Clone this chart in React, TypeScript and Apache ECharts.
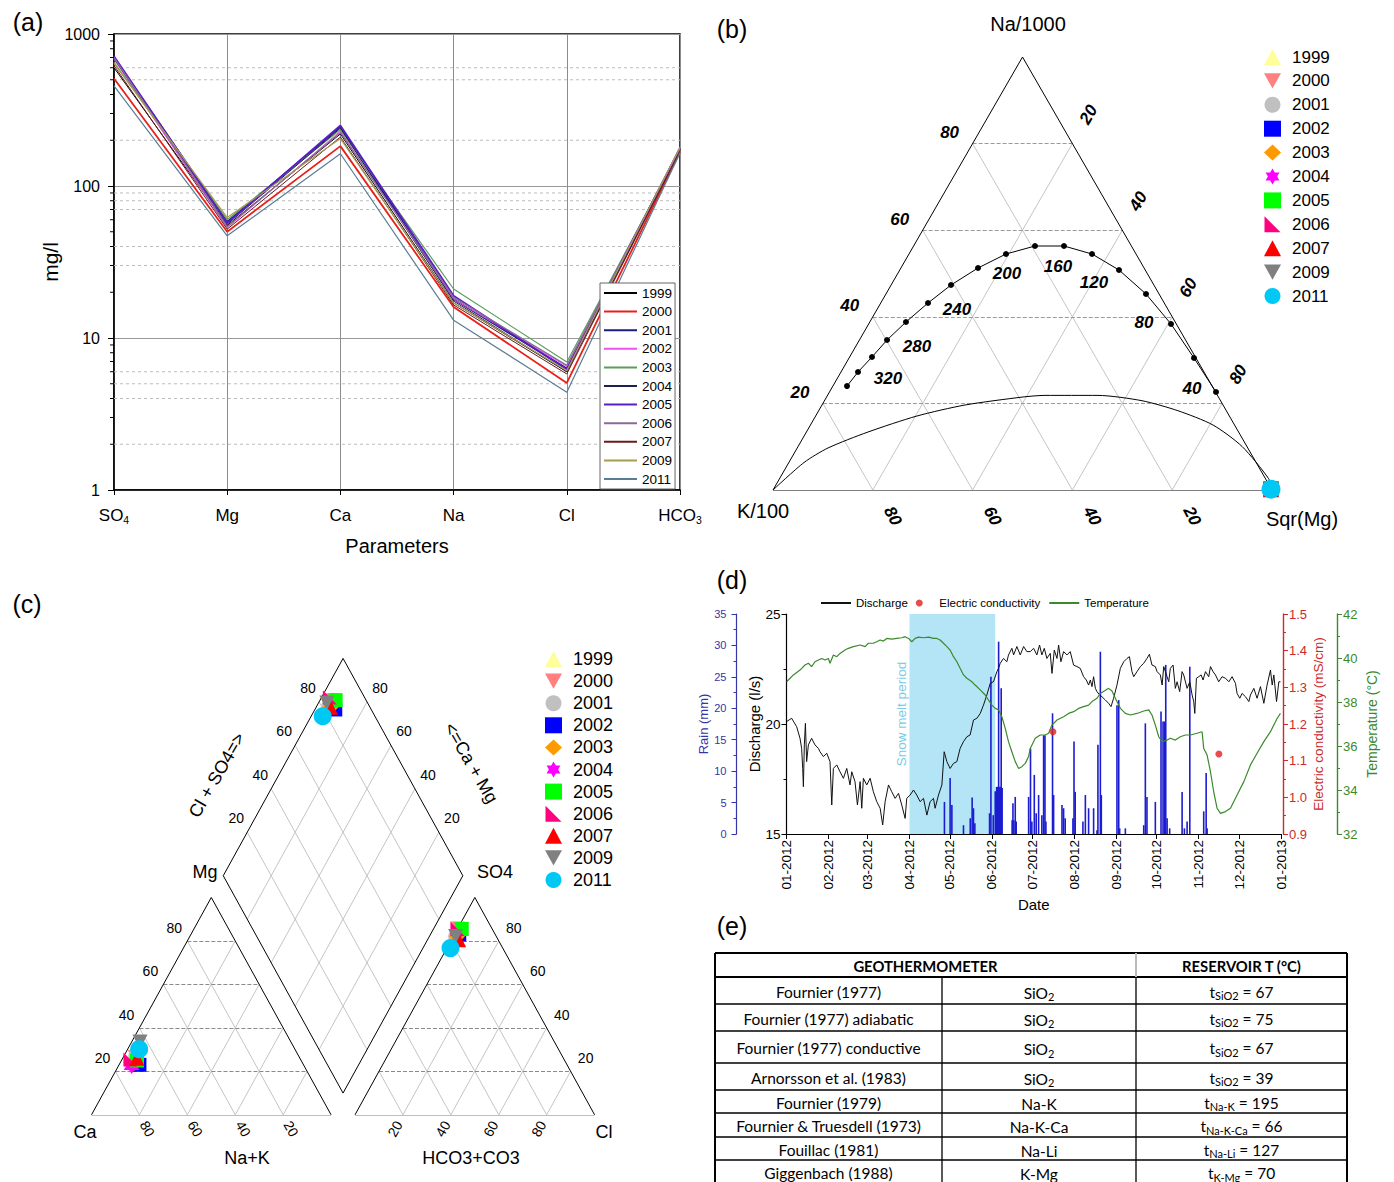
import React, { useEffect, useRef } from 'react';
import * as echarts from 'echarts';

const FONT = '"Liberation Sans", Arial, sans-serif';
const TABLE_FONT = 'Lato, "Liberation Sans", sans-serif';
const SQ3 = Math.sqrt(3) / 2;

// ================= (a) Schoeller-type diagram =================
const aParams = ['SO4', 'Mg', 'Ca', 'Na', 'Cl', 'HCO3'];
const years = ['1999', '2000', '2001', '2002', '2003', '2004', '2005', '2006', '2007', '2009', '2011'];
// rows follow `years`, columns follow `aParams` (mg/l)
const aValues: number[][] = [
  [600, 55, 220, 17, 6.0, 172],
  [510, 50, 183, 16, 5.06, 168],
  [700, 58, 245, 18, 6.3, 175],
  [680, 53, 230, 18, 6.5, 170],
  [650, 60, 235, 21, 6.95, 172],
  [690, 56, 240, 17.5, 6.0, 174],
  [715, 57, 250, 19, 6.2, 178],
  [700, 54, 225, 18.5, 6.6, 176],
  [620, 52, 210, 16.5, 5.8, 170],
  [640, 62, 205, 17, 6.1, 180],
  [455, 47, 163, 13.1, 4.4, 165],
];
const aColors = ['#000000', '#e8201a', '#1c1c80', '#f050f0', '#5a9e5a', '#202050', '#5a1ec8', '#8a6a9a', '#6a1a1a', '#a89c50', '#5a7d96'];
const aWidths = [1, 1.8, 1.8, 1, 1.2, 1, 1.8, 1.4, 1, 1.2, 1.2];
const aMinorGrid = [2, 4, 5, 6, 30, 40, 70, 80, 90, 200, 500, 600];
const aMinorTicks = [2, 3, 4, 5, 6, 7, 8, 9, 20, 30, 40, 50, 60, 70, 80, 90, 200, 300, 400, 500, 600, 700, 800, 900];

// ================= (b) Giggenbach diagram =================
const bTicks = [20, 40, 60, 80];
const fullEqTemp = [360, 340, 320, 300, 280, 260, 240, 220, 200, 180, 160, 140, 120, 100, 80, 60, 40];
const fullEqNa = [24.0, 27.25, 30.72, 34.64, 38.8, 43.19, 47.34, 51.27, 54.5, 56.35, 56.35, 54.5, 50.81, 45.27, 38.34, 30.48, 22.63];
const fullEqMg = [2.83, 3.41, 4.48, 5.53, 7.25, 9.47, 12.0, 15.45, 19.44, 24.33, 30.14, 36.68, 43.93, 52.11, 60.59, 69.13, 77.46];
const fullEqLabelled = [320, 280, 240, 200, 160, 120, 80, 40];
const partEqNa = [0, 6.35, 9.7, 13.39, 17.09, 19.63, 21.48, 21.85, 21.85, 20.62, 18.31, 15.01, 10.07, 2.63, 0];
const partEqMg = [0, 3.04, 6.17, 12.34, 20.31, 28.66, 39.36, 43.58, 54.2, 63.64, 72.0, 80.67, 88.95, 98.0, 100];
const bSampleNa = [0.2, 0.2, 0.2, 0.2, 0.2, 0.2, 0.2, 0.2, 0.2, 0.2, 0.2];
const bSampleMg = [99.7, 99.7, 99.7, 99.7, 99.7, 99.7, 99.7, 99.7, 99.7, 99.7, 99.7];

// ================= (c) Piper diagram (%) =================
const cMg = [25, 26.5, 27, 23, 24, 22.5, 25, 25.5, 26, 33.5, 30.2];
const cNaK = [5.5, 5, 5, 8.5, 6, 5.5, 6.5, 3.5, 6, 3.5, 4.8];
const cSO4 = [83.5, 85.5, 82, 83, 82, 84.5, 85.5, 85.5, 80.5, 82, 76.7];
const cCl = [1.2, 0, 1, 2, 1.5, 1.5, 1.8, 0, 3, 1, 1.5];

// markers shared by (b) and (c)
const INV_TRI = 'path://M0,0L10,0L5,9Z';
const HEXAGRAM = 'path://M5,0L6.44,2.5L9.33,2.5L7.89,5L9.33,7.5L6.44,7.5L5,10L3.56,7.5L0.67,7.5L2.11,5L0.67,2.5L3.56,2.5Z';
const RIGHT_TRI = 'path://M0,0L0,10L10,10Z';
const yearSymbols = ['triangle', INV_TRI, 'circle', 'rect', 'diamond', HEXAGRAM, 'rect', RIGHT_TRI, 'triangle', INV_TRI, 'circle'];
const yearColors = ['#ffff99', '#ff8080', '#c0c0c0', '#0000ff', '#ff9900', '#ff00ff', '#00ff00', '#ff0080', '#ff0000', '#808080', '#00c8f5'];
const yearSizes = [15, 15, 15, 14, 16, 16, 14, 14, 15, 15, 18];

// ================= (d) time series (days since 2012-01-01) =================
const monthStartDays = [0, 31, 60, 91, 121, 152, 182, 213, 244, 274, 305, 335, 366];
const monthLabels = ['01-2012', '02-2012', '03-2012', '04-2012', '05-2012', '06-2012', '07-2012', '08-2012', '09-2012', '10-2012', '11-2012', '12-2012', '01-2013'];
const snowMelt = [91, 154.5];
const discharge: number[][] = [
  [0.1, 20.11], [3.8, 20.26], [7.5, 19.88], [10, 19.35], [11.2, 18.89], [12, 17.98], [12.5, 17.15], [13.2, 19.05], [14, 20.03], [14.9, 18.29],
  [16.2, 19.05], [18.6, 19.35], [21.1, 19.05], [23.6, 18.89], [24.8, 18.74], [27.3, 18.52], [29.8, 18.67], [32.2, 18.29], [33.5, 16.32], [34.7, 17.98],
  [37.2, 18.14], [39.6, 17.83], [42.1, 17.53], [44.6, 17.98], [47, 17.23], [48.3, 17.83], [50.7, 17.38], [52.5, 16.32], [54.5, 17.38], [55.7, 16.17],
  [56.9, 17.53], [59.4, 17.23], [61.9, 17.53], [64.3, 16.92], [66.8, 16.47], [69.3, 16.17], [71.2, 15.41], [73, 16.47], [75.5, 17.23], [77.9, 16.92],
  [80.4, 16.62], [82.9, 16.85], [85.3, 16.32], [87.8, 15.71], [89, 16.62], [91.5, 16.77], [94, 17.0], [96.4, 16.77], [98.9, 16.47], [101.4, 16.62],
  [103.9, 15.86], [106.3, 16.47], [108.8, 16.62], [110, 16.17], [112.5, 16.77], [115, 17.23], [116.7, 18.74], [118.7, 18.29], [121.1, 17.98], [123.6, 18.21],
  [126.1, 18.29], [128.5, 18.89], [131, 19.2], [133.5, 19.42], [135.9, 19.5], [138.4, 20.18], [140.9, 20.26], [143.4, 20.48], [145.8, 20.86], [148.3, 21.32],
  [150.8, 21.85], [153.2, 21.92], [155.7, 22.38], [156.9, 22.53], [158.2, 22.76], [160.6, 22.98], [163.1, 22.83], [164.3, 23.14], [166.8, 23.44], [168.1, 23.14],
  [170.5, 23.52], [173, 23.14], [175.5, 23.52], [177.9, 23.29], [180.4, 23.29], [182.9, 23.44], [185.3, 23.14], [187.3, 23.59], [189, 23.14], [190.8, 23.44],
  [192.7, 22.98], [195.2, 23.21], [196.5, 22.3], [198.2, 23.36], [200.2, 22.98], [201.4, 23.59], [203.1, 22.83], [205.1, 23.29], [207.6, 23.14], [210, 23.29],
  [212.5, 22.68], [215, 22.61], [217.4, 22.53], [219.9, 22.15], [221.9, 22.0], [223.6, 21.77], [224.9, 22.0], [226.1, 21.7], [227.3, 22.15], [228.6, 21.62],
  [229.8, 21.47], [231.8, 21.32], [233.5, 21.24], [236, 21.09], [238.4, 20.94], [240.2, 20.79], [242.1, 21.17], [244.6, 21.77], [247.1, 22.53], [249.6, 22.83],
  [252, 22.98], [253.8, 23.06], [255.7, 22.38], [257, 22.15], [259.4, 22.38], [261.9, 22.61], [264.4, 22.76], [266.8, 22.98], [268.6, 23.17], [270.5, 22.68],
  [273, 22.61], [274.3, 22.38], [276.7, 22.23], [278, 21.77], [279.2, 22.61], [281.7, 22.15], [282.9, 21.92], [284.1, 22.53], [286.1, 22.68], [287.8, 21.62],
  [289.1, 21.92], [291, 21.47], [292.8, 22.38], [294, 22.23], [296.5, 21.62], [298.5, 21.92], [300.2, 21.32], [301.4, 21.02], [302.2, 20.48], [303.4, 22.08],
  [305.1, 22.15], [306.9, 22.23], [308.3, 22.0], [310.1, 22.38], [312.5, 22.15], [313.8, 22.61], [315.7, 22.38], [317.5, 22.23], [319.9, 21.92], [322.4, 22.15],
  [324.9, 22.08], [327.4, 21.92], [329.8, 22.15], [332.3, 21.85], [333.5, 21.39], [335.5, 21.17], [337.2, 21.39], [339.7, 21.24], [342.2, 21.02], [343.4, 21.32],
  [345.9, 21.62], [348.3, 21.17], [350.8, 21.7], [353.3, 20.94], [355.7, 21.77], [358.2, 22.45], [359.5, 21.77], [360.7, 22.23], [362.7, 21.02], [364.4, 21.92],
  [365.6, 21.92],
];
const temperature: number[][] = [
  [0.1, 38.92], [5.1, 39.23], [10, 39.45], [13.7, 39.68], [16.2, 39.76], [18.6, 39.61], [21.1, 39.83], [23.6, 39.91], [26.1, 39.98], [28.5, 39.91],
  [31, 39.98], [32.2, 39.76], [34.7, 40.14], [37.2, 40.06], [39.6, 40.21], [43.3, 40.36], [45.8, 40.44], [49.5, 40.52], [54.5, 40.59], [58.2, 40.52],
  [60.6, 40.67], [64.3, 40.67], [66.8, 40.74], [69.3, 40.82], [71.7, 40.77], [74.2, 40.89], [77.9, 40.86], [81.6, 40.89], [85.3, 40.92], [87.8, 40.97],
  [90.3, 40.89], [92.7, 40.74], [95.2, 40.89], [97.7, 40.95], [101.4, 40.92], [105.1, 40.95], [108.8, 40.89], [111.3, 40.89], [113.7, 40.82], [116.2, 40.67],
  [118.7, 40.52], [121.1, 40.36], [123.6, 40.06], [126.1, 39.83], [128.5, 39.53], [131, 39.23], [133.5, 39.08], [137.2, 38.92], [139.6, 38.77], [143.4, 38.55],
  [147.1, 38.32], [149.5, 38.09], [152, 37.86], [154.5, 37.71], [157, 37.64], [159.4, 37.33], [161.9, 36.8], [164.3, 36.2], [166.8, 35.74], [169.3, 35.29],
  [171.8, 34.98], [174.2, 35.06], [176.7, 35.21], [179.2, 35.52], [180.4, 35.89], [184.1, 36.35], [187.8, 36.5], [191.5, 36.5], [194, 36.58], [196.5, 36.95],
  [200.2, 37.18], [205.1, 37.33], [208.8, 37.48], [212.5, 37.56], [216.2, 37.71], [219.9, 37.79], [223.6, 37.86], [226.1, 38.02], [229.8, 38.17], [232.3, 38.39],
  [235.2, 38.5], [238.4, 38.62], [240.9, 38.5], [243.4, 38.17], [247.1, 37.71], [250.8, 37.48], [254.5, 37.41], [259.4, 37.48], [264.4, 37.59], [268.1, 37.64],
  [270.5, 37.41], [273, 36.95], [275.5, 36.42], [278, 36.2], [281.7, 36.27], [284.1, 36.35], [287.8, 36.27], [291.5, 36.42], [295.2, 36.5], [298.9, 36.5],
  [303.9, 36.58], [307.6, 36.65], [308.8, 35.89], [311.3, 35.59], [313.8, 34.83], [316.2, 33.92], [318.7, 33.17], [321.2, 32.94], [324.9, 33.02], [328.6, 33.17],
  [333.5, 33.77], [338.5, 34.38], [343.4, 35.14], [348.3, 35.67], [353.3, 36.2], [358.2, 36.65], [363.2, 37.26], [365.6, 37.48],
];
const rain: number[][] = [
  [116.9, 5.1], [121.1, 8.9], [122.4, 4.6], [131, 1.4], [136, 2.5], [137.4, 5.8], [138.4, 4.1], [139.4, 1.7], [150.3, 3.3], [151.3, 25.0],
  [153, 3.0], [154.5, 6.8], [155.5, 7.5], [156.3, 7.5], [157, 30.6], [157.7, 7.5], [158.4, 7.5], [158.9, 23.2], [159.6, 7.3], [167, 2.2],
  [167.6, 4.9], [168.3, 2.2], [169.3, 5.9], [170, 2.0], [179.2, 5.9], [180.6, 13.6], [181.6, 2.0], [183.4, 9.4], [184.8, 3.3], [186.6, 6.2],
  [189, 3.0], [190.3, 15.7], [191.3, 15.7], [192, 2.0], [196.9, 19.2], [197.7, 6.2], [203.9, 4.6], [205.1, 4.1], [206.3, 2.5], [212, 2.5],
  [212.8, 14.7], [213.7, 6.7], [219.4, 2.0], [221.2, 6.2], [223.6, 4.1], [227.3, 4.1], [229.8, 0.6], [230.5, 14.2], [232.3, 29.0], [233, 6.2],
  [244.6, 20.5], [245.9, 21.3], [246.6, 0.9], [250.8, 0.9], [264.4, 1.4], [265.6, 17.6], [266.8, 5.9], [273, 5.1], [277.2, 19.5], [278.7, 17.9],
  [279.7, 17.9], [280.7, 26.9], [281.7, 2.5], [283.6, 0.9], [292.8, 6.7], [294.5, 0.9], [296.5, 2.0], [298.5, 26.6], [308.8, 3.6], [310.6, 9.7],
  [311.3, 0.9],
];
const conductivity: number[][] = [[197.2, 1.179], [320, 1.118]];

// ================= (e) geothermometer table =================
const tableMethods = ['Fournier (1977)', 'Fournier (1977) adiabatic', 'Fournier (1977) conductive', 'Arnorsson et al. (1983)', 'Fournier (1979)', 'Fournier & Truesdell (1973)', 'Fouillac (1981)', 'Giggenbach (1988)'];
const tableTracers = ['SiO2', 'SiO2', 'SiO2', 'SiO2', 'Na-K', 'Na-K-Ca', 'Na-Li', 'K-Mg'];
const tableTemps = [67, 75, 67, 39, 195, 66, 127, 70];

// ---------- ternary helpers (data units, not pixels) ----------
const gigXY = (na: number, mg: number) => [mg + na / 2, na * SQ3];
const PIPER_GAP = 10;
const catXY = (mg: number, nak: number) => [nak + mg / 2, mg * SQ3];
const anXY = (so4: number, cl: number) => [100 + PIPER_GAP + cl + so4 / 2, so4 * SQ3];
const diaXY = (caMg: number, clSo4: number) => [
  100 + PIPER_GAP / 2 + 0.5 * (clSo4 - caMg),
  (PIPER_GAP / 2) * 2 * SQ3 + SQ3 * (clSo4 + caMg),
];

function segSeries(segs: number[][][], xi: number, color: string, width: number, type: string) {
  return {
    type: 'lines', coordinateSystem: 'cartesian2d', xAxisIndex: xi, yAxisIndex: xi, silent: true, z: 1,
    polyline: false, symbol: ['none', 'none'],
    lineStyle: { color, width, type, opacity: 1, curveness: 0 },
    data: segs.map((s) => ({ coords: s })),
  };
}

type LabelDef = { pt: number[]; text: string; dx: number; dy: number; rot: number };
function labelSeries(defs: LabelDef[], xi: number, font: any) {
  return {
    type: 'custom', xAxisIndex: xi, yAxisIndex: xi, silent: true, z: 6, clip: false,
    data: defs.map((d) => d.pt),
    renderItem: (params: any, api: any) => {
      const d = defs[params.dataIndex];
      const p = api.coord([api.value(0), api.value(1)]);
      return {
        type: 'text', x: p[0] + d.dx, y: p[1] + d.dy, rotation: (d.rot * Math.PI) / 180,
        style: { text: d.text, fill: '#000', align: 'center', verticalAlign: 'middle', textAlign: 'center', textVerticalAlign: 'middle', fontFamily: FONT, ...font },
      };
    },
  };
}

function buildOption() {
  // ---- (a) series ----
  const aSeries: any[] = years.map((y, i) => ({
    name: 'a' + y, type: 'line', xAxisIndex: 0, yAxisIndex: 0, data: aValues[i], symbol: 'none', z: 3,
    lineStyle: { color: aColors[i], width: aWidths[i] }, itemStyle: { color: aColors[i] },
  }));
  aSeries.push({
    type: 'custom', xAxisIndex: 0, yAxisIndex: 0, silent: true, z: 1,
    data: aMinorGrid.map((v) => [0, v]),
    renderItem: (params: any, api: any) => {
      const a = api.coord([0, api.value(1)]);
      const b = api.coord([aParams.length - 1, api.value(1)]);
      return { type: 'line', shape: { x1: a[0], y1: a[1], x2: b[0], y2: b[1] }, style: { stroke: '#bdbdbd', lineWidth: 1, lineDash: [3, 3] } };
    },
  });
  aSeries.push({
    type: 'custom', xAxisIndex: 0, yAxisIndex: 0, silent: true, z: 4,
    data: aMinorTicks.map((v) => [0, v]),
    renderItem: (params: any, api: any) => {
      const a = api.coord([0, api.value(1)]);
      return { type: 'line', shape: { x1: a[0] - 4, y1: a[1], x2: a[0], y2: a[1] }, style: { stroke: '#000', lineWidth: 1 } };
    },
  });

  // ---- (b) series ----
  const bDashed: number[][][] = [];
  const bLight: number[][][] = [];
  bTicks.forEach((p) => {
    bDashed.push([gigXY(p, 0), gigXY(p, 100 - p)]);
    bLight.push([gigXY(0, p), gigXY(100 - p, p)]);
    bLight.push([gigXY(0, 100 - p), gigXY(100 - p, 0)]);
  });
  const bEdges = [[gigXY(0, 0), gigXY(0, 100)], [gigXY(0, 100), gigXY(100, 0)], [gigXY(100, 0), gigXY(0, 0)]];
  const bLabels: LabelDef[] = [];
  bTicks.forEach((p) => {
    bLabels.push({ pt: gigXY(p, 0), text: String(p), dx: -23, dy: -11, rot: 0 });
    bLabels.push({ pt: gigXY(100 - p, p), text: String(p), dx: 16, dy: -29, rot: 60 });
    bLabels.push({ pt: gigXY(0, 100 - p), text: String(p), dx: 20, dy: 26, rot: -62 });
  });
  const tempOffsets: Record<number, number[]> = {
    320: [16, 22], 280: [11, 25], 240: [6, 24], 200: [1, 19], 160: [-6, 20], 120: [-25, 13], 80: [-27, -1], 40: [-24, -4],
  };
  const tLabels: LabelDef[] = fullEqLabelled.map((t) => {
    const i = fullEqTemp.indexOf(t);
    return { pt: gigXY(fullEqNa[i], fullEqMg[i]), text: String(t), dx: tempOffsets[t][0], dy: tempOffsets[t][1], rot: 0 };
  });
  const bSeries: any[] = [
    segSeries(bLight, 1, '#c4c4c4', 1, 'solid'),
    segSeries(bDashed, 1, '#9a9a9a', 1, 'dashed'),
    segSeries(bEdges, 1, '#000', 1, 'solid'),
    {
      type: 'line', xAxisIndex: 1, yAxisIndex: 1, silent: true, z: 3, symbol: 'none', smooth: 0.25,
      lineStyle: { color: '#000', width: 1 }, data: partEqNa.map((na, i) => gigXY(na, partEqMg[i])),
    },
    {
      type: 'line', xAxisIndex: 1, yAxisIndex: 1, silent: true, z: 3, symbol: 'circle', symbolSize: 6, showSymbol: true,
      lineStyle: { color: '#000', width: 1 }, itemStyle: { color: '#000' },
      data: fullEqNa.map((na, i) => gigXY(na, fullEqMg[i])),
    },
    labelSeries(bLabels, 1, { fontSize: 17, fontWeight: 'bold', fontStyle: 'italic' }),
    labelSeries(tLabels, 1, { fontSize: 17, fontWeight: 'bold', fontStyle: 'italic' }),
  ];
  years.forEach((y, i) => {
    bSeries.push({
      name: 'b' + y, type: 'scatter', xAxisIndex: 1, yAxisIndex: 1, z: 5,
      symbol: yearSymbols[i], symbolSize: yearSizes[i] + 1, itemStyle: { color: yearColors[i], opacity: 1 },
      data: [gigXY(bSampleNa[i], bSampleMg[i])],
    });
  });

  // ---- (c) series ----
  const cDashed: number[][][] = [];
  const cLight: number[][][] = [];
  bTicks.forEach((p) => {
    cDashed.push([catXY(p, 0), catXY(p, 100 - p)]);
    cLight.push([catXY(0, p), catXY(100 - p, p)]);
    cLight.push([catXY(0, 100 - p), catXY(100 - p, 0)]);
    cDashed.push([anXY(p, 0), anXY(p, 100 - p)]);
    cLight.push([anXY(0, p), anXY(100 - p, p)]);
    cLight.push([anXY(0, 100 - p), anXY(100 - p, 0)]);
    cLight.push([diaXY(0, p), diaXY(100, p)]);
    cLight.push([diaXY(p, 0), diaXY(p, 100)]);
  });
  const cEdges = [
    [catXY(0, 0), catXY(0, 100)], [catXY(0, 100), catXY(100, 0)], [catXY(100, 0), catXY(0, 0)],
    [anXY(0, 0), anXY(0, 100)], [anXY(0, 100), anXY(100, 0)], [anXY(100, 0), anXY(0, 0)],
    [diaXY(0, 0), diaXY(100, 0)], [diaXY(100, 0), diaXY(100, 100)], [diaXY(100, 100), diaXY(0, 100)], [diaXY(0, 100), diaXY(0, 0)],
  ];
  const cLabels: LabelDef[] = [];
  bTicks.forEach((p) => {
    cLabels.push({ pt: catXY(p, 0), text: String(p), dx: -13, dy: -13, rot: 0 });
    cLabels.push({ pt: catXY(0, 100 - p), text: String(p), dx: 8, dy: 14, rot: -60 });
    cLabels.push({ pt: anXY(0, p), text: String(p), dx: -8, dy: 14, rot: 60 });
    cLabels.push({ pt: anXY(p, 100 - p), text: String(p), dx: 15, dy: -13, rot: 0 });
    cLabels.push({ pt: diaXY(100, p), text: String(p), dx: -11, dy: -14, rot: 0 });
    cLabels.push({ pt: diaXY(p, 100), text: String(p), dx: 13, dy: -14, rot: 0 });
  });
  const cSeries: any[] = [
    segSeries(cLight, 2, '#c4c4c4', 1, 'solid'),
    segSeries(cDashed, 2, '#8a8a8a', 1, 'dashed'),
    segSeries(cEdges, 2, '#000', 1, 'solid'),
    labelSeries(cLabels, 2, { fontSize: 14 }),
  ];
  years.forEach((y, i) => {
    cSeries.push({
      name: 'c' + y, type: 'scatter', xAxisIndex: 2, yAxisIndex: 2, z: 5,
      symbol: yearSymbols[i], symbolSize: yearSizes[i], itemStyle: { color: yearColors[i], opacity: 1 },
      data: [catXY(cMg[i], cNaK[i]), anXY(cSO4[i], cCl[i]), diaXY(100 - cNaK[i], cSO4[i] + cCl[i])],
    });
  });

  // ---- (d) series ----
  const dSeries: any[] = [
    {
      name: 'Rain', type: 'bar', xAxisIndex: 3, yAxisIndex: 4, barWidth: 1.6, z: 2,
      itemStyle: { color: '#1c1cd0' }, data: rain,
    },
    {
      name: 'Discharge', type: 'line', xAxisIndex: 3, yAxisIndex: 3, symbol: 'none', z: 3,
      lineStyle: { color: '#111', width: 1 }, itemStyle: { color: '#111' }, data: discharge,
      markArea: {
        silent: true, z: 0, itemStyle: { color: '#b3e5f6', opacity: 1 },
        data: [[{ xAxis: snowMelt[0] }, { xAxis: snowMelt[1] }]],
      },
    },
    {
      name: 'Temperature', type: 'line', xAxisIndex: 3, yAxisIndex: 6, symbol: 'none', z: 3,
      lineStyle: { color: '#3a8a2c', width: 1.2 }, itemStyle: { color: '#3a8a2c' }, data: temperature,
    },
    {
      name: 'Electric conductivity', type: 'scatter', xAxisIndex: 3, yAxisIndex: 5, symbol: 'circle', symbolSize: 7, z: 5,
      itemStyle: { color: '#e02020' }, data: conductivity,
    },
  ];

  // ---- graphic: titles, annotations, table ----
  const txt = (text: string, x: number, y: number, fontSize: number, extra: any = {}) => ({
    type: 'text', x, y, rotation: extra.rotation || 0, z: 100,
    style: {
      text, fontSize, fontFamily: extra.fontFamily || FONT, fontWeight: extra.fontWeight || 'normal',
      fill: extra.fill || '#000', align: 'center', verticalAlign: 'middle', textAlign: 'center', textVerticalAlign: 'middle',
      rich: extra.rich,
    },
  });
  const g: any[] = [
    txt('(a)', 28, 22, 25), txt('(b)', 732, 29, 25), txt('(c)', 27, 604, 25), txt('(d)', 732, 580, 25), txt('(e)', 732, 926, 25),
    txt('Na/1000', 1028, 24, 20), txt('K/100', 763, 511, 20), txt('Sqr(Mg)', 1302, 519, 20),
    txt('Mg', 205, 872, 18), txt('SO4', 495, 872, 18), txt('Ca', 85, 1132, 18), txt('Cl', 604, 1132, 18),
    txt('Na+K', 247, 1158, 18), txt('HCO3+CO3', 471, 1158, 18),
    txt('Cl + SO4=>', 217, 775, 18, { rotation: Math.PI / 3 }),
    txt('<=Ca + Mg', 471, 763, 18, { rotation: -Math.PI / 3 }),
    txt('Snow melt period', 901, 714, 13.5, { rotation: Math.PI / 2, fill: '#79cbe6' }),
  ];
  const colX = [715, 942, 1136, 1347];
  const rowY = [953, 977, 1004, 1031, 1063, 1090, 1113, 1137, 1160, 1184];
  const ln = (x1: number, y1: number, x2: number, y2: number, w: number, c = '#000') => ({
    type: 'line', z: 100, shape: { x1, y1, x2, y2 }, style: { stroke: c, lineWidth: w },
  });
  rowY.forEach((y, i) => g.push(ln(colX[0], y, colX[3], y, i < 2 ? 2 : 1.3)));
  g.push(ln(colX[0], rowY[0], colX[0], rowY[9], 2));
  g.push(ln(colX[3], rowY[0], colX[3], rowY[9], 2));
  g.push(ln(colX[1], rowY[1], colX[1], rowY[9], 1.3));
  g.push(ln(colX[2], rowY[1], colX[2], rowY[9], 1.3));
  g.push(ln(colX[2], rowY[0], colX[2], rowY[1], 2, '#bbbbbb'));
  const rich = {
    n: { fontSize: 15.5, fontFamily: TABLE_FONT, lineHeight: 19, fill: '#000', color: '#000' },
    s: { fontSize: 11, fontFamily: TABLE_FONT, lineHeight: 11, verticalAlign: 'bottom', fill: '#000', color: '#000' },
  };
  g.push(txt('GEOTHERMOMETER', (colX[0] + colX[2]) / 2, 965.5, 14.8, { fontFamily: TABLE_FONT, fontWeight: 'bold' }));
  g.push(txt('RESERVOIR T (°C)', (colX[2] + colX[3]) / 2, 965.5, 14.8, { fontFamily: TABLE_FONT, fontWeight: 'bold' }));
  tableMethods.forEach((m, i) => {
    const cy = (rowY[i + 1] + rowY[i + 2]) / 2 + 1;
    const tr = tableTracers[i];
    const trText = tr === 'SiO2' ? '{n|SiO}{s|2}' : '{n|' + tr + '}';
    g.push(txt(m, (colX[0] + colX[1]) / 2, cy, 15.5, { fontFamily: TABLE_FONT }));
    g.push(txt(trText, (colX[1] + colX[2]) / 2, cy + 1, 15.5, { fontFamily: TABLE_FONT, rich }));
    g.push(txt('{n|t}{s|' + tr + '}{n| = ' + tableTemps[i] + '}', (colX[2] + colX[3]) / 2, cy, 15.5, { fontFamily: TABLE_FONT, rich }));
  });

  const subLabel = (v: string) => {
    if (v === 'SO4') return '{b|SO}{s|4}';
    if (v === 'HCO3') return '{b|HCO}{s|3}';
    return '{b|' + v + '}';
  };
  const noSymbol = { opacity: 0 };

  return {
    animation: false,
    backgroundColor: '#fff',
    textStyle: { fontFamily: FONT },
    grid: [
      { left: 114, top: 34, width: 566, height: 456, show: true, borderColor: '#000', borderWidth: 1.5, backgroundColor: 'rgba(0,0,0,0)', outerBoundsMode: 'none', containLabel: false },
      { left: 773, top: 57, width: 499, height: 433, outerBoundsMode: 'none', containLabel: false },
      { left: 91.5, top: 658.4, width: 503.1, height: 456.4, outerBoundsMode: 'none', containLabel: false },
      { left: 786.5, top: 614, width: 494.5, height: 220, outerBoundsMode: 'none', containLabel: false },
    ],
    xAxis: [
      {
        gridIndex: 0, type: 'category', data: aParams, boundaryGap: false,
        axisLine: { lineStyle: { color: '#000', width: 1.5 } },
        axisTick: { show: true, length: 5, alignWithLabel: true, lineStyle: { color: '#000' } },
        axisLabel: {
          margin: 16, color: '#000', formatter: subLabel,
          rich: { b: { fontSize: 17, color: '#000', lineHeight: 19 }, s: { fontSize: 10.5, color: '#000', lineHeight: 10, verticalAlign: 'bottom' } },
        },
        splitLine: { show: true, lineStyle: { color: '#8c8c8c', width: 1 } },
        name: 'Parameters', nameLocation: 'middle', nameGap: 46, nameTextStyle: { fontSize: 20, color: '#000' },
      },
      { gridIndex: 1, type: 'value', min: 0, max: 100, show: false },
      { gridIndex: 2, type: 'value', min: 0, max: 200 + PIPER_GAP, show: false },
      {
        gridIndex: 3, type: 'value', min: 0, max: 366,
        axisLine: { show: true, onZero: false, lineStyle: { color: '#000', width: 1.2 } },
        axisTick: { show: true, length: 5, customValues: monthStartDays, lineStyle: { color: '#000' } },
        axisLabel: {
          customValues: monthStartDays, rotate: 90, fontSize: 13.5, color: '#000', margin: 6,
          formatter: (v: number) => monthLabels[monthStartDays.indexOf(Math.round(v))] || '',
        },
        splitLine: { show: false },
        name: 'Date', nameLocation: 'middle', nameGap: 63, nameTextStyle: { fontSize: 15, color: '#000' },
      },
    ],
    yAxis: [
      {
        gridIndex: 0, type: 'log', logBase: 10, min: 1, max: 1000,
        axisLine: { show: true, lineStyle: { color: '#000', width: 1.5 } },
        axisTick: { show: true, length: 6, lineStyle: { color: '#000' } },
        axisLabel: { fontSize: 16, color: '#000', margin: 14, formatter: (v: number) => String(Math.round(v)) },
        splitLine: { show: true, lineStyle: { color: '#999', width: 1 } },
        name: 'mg/l', nameLocation: 'middle', nameRotate: 90, nameGap: 40, nameTextStyle: { fontSize: 21, color: '#000' },
      },
      { gridIndex: 1, type: 'value', min: 0, max: 100 * SQ3, show: false },
      { gridIndex: 2, type: 'value', min: 0, max: PIPER_GAP * SQ3 + 200 * SQ3, show: false },
      {
        gridIndex: 3, type: 'value', min: 15, max: 25, interval: 5, position: 'left', offset: 0,
        axisLine: { show: true, lineStyle: { color: '#000', width: 1.2 } },
        axisTick: { show: true, length: 5 }, minorTick: { show: true, splitNumber: 2, length: 3 },
        axisLabel: { fontSize: 13.5, color: '#000', margin: 6 }, splitLine: { show: false },
        name: 'Discharge (l/s)', nameLocation: 'middle', nameRotate: 90, nameGap: 22, nameTextStyle: { fontSize: 15, color: '#000' },
      },
      {
        gridIndex: 3, type: 'value', min: 0, max: 35, interval: 5, position: 'left', offset: 50,
        axisLine: { show: true, lineStyle: { color: '#3535a8', width: 1.2 } },
        axisTick: { show: true, length: 5, lineStyle: { color: '#3535a8' } }, minorTick: { show: true, splitNumber: 2, length: 3, lineStyle: { color: '#3535a8' } },
        axisLabel: { fontSize: 11, color: '#3535a8', margin: 10 }, splitLine: { show: false },
        name: 'Rain (mm)', nameLocation: 'middle', nameRotate: 90, nameGap: 26, nameTextStyle: { fontSize: 13, color: '#3535a8' },
      },
      {
        gridIndex: 3, type: 'value', min: 0.9, max: 1.5, interval: 0.1, position: 'right', offset: 2,
        axisLine: { show: true, lineStyle: { color: '#cc2a2a', width: 1.4 } },
        axisTick: { show: true, length: 5, lineStyle: { color: '#cc2a2a' } }, minorTick: { show: true, splitNumber: 2, length: 3, lineStyle: { color: '#cc2a2a' } },
        axisLabel: { fontSize: 13, color: '#cc2a2a', margin: 6, formatter: (v: number) => v.toFixed(1) }, splitLine: { show: false },
        name: 'Electric conductivity (mS/cm)', nameLocation: 'middle', nameRotate: 90, nameGap: 28, nameTextStyle: { fontSize: 13.5, color: '#cc2a2a' },
      },
      {
        gridIndex: 3, type: 'value', min: 32, max: 42, interval: 2, position: 'right', offset: 56,
        axisLine: { show: true, lineStyle: { color: '#3a8a2c', width: 1.4 } },
        axisTick: { show: true, length: 5, lineStyle: { color: '#3a8a2c' } }, minorTick: { show: true, splitNumber: 2, length: 3, lineStyle: { color: '#3a8a2c' } },
        axisLabel: { fontSize: 13, color: '#3a8a2c', margin: 6 }, splitLine: { show: false },
        name: 'Temperature (°C)', nameLocation: 'middle', nameRotate: 90, nameGap: 28, nameTextStyle: { fontSize: 14, color: '#3a8a2c' },
      },
    ],
    legend: [
      {
        data: years.map((y) => 'a' + y), formatter: (n: string) => n.slice(1), orient: 'vertical',
        left: 600, top: 283, itemWidth: 33, itemHeight: 12, itemGap: 4.6, padding: [3, 3, 3, 3],
        backgroundColor: '#fff', borderColor: '#666', borderWidth: 1, textStyle: { fontSize: 13.5, color: '#000' },
        itemStyle: noSymbol, selectedMode: false,
      },
      {
        data: years.map((y) => 'b' + y), formatter: (n: string) => n.slice(1), orient: 'vertical',
        left: 1264, top: 48.5, itemWidth: 17, itemHeight: 16, itemGap: 6.9, padding: 0,
        textStyle: { fontSize: 17, color: '#000', padding: [0, 0, 0, 6] }, selectedMode: false,
      },
      {
        data: years.map((y) => 'c' + y), formatter: (n: string) => n.slice(1), orient: 'vertical',
        left: 545, top: 650, itemWidth: 17, itemHeight: 16, itemGap: 4.1, padding: 0,
        textStyle: { fontSize: 18, color: '#000', padding: [0, 0, 0, 6] }, selectedMode: false,
      },
      {
        data: [
          { name: 'Discharge', itemStyle: noSymbol },
          { name: 'Electric conductivity' },
          { name: 'Temperature', itemStyle: noSymbol },
        ],
        orient: 'horizontal',
        left: 820, top: 597, itemWidth: 30, itemHeight: 7, itemGap: 8, padding: 0,
        textStyle: { fontSize: 11.5, color: '#000' }, selectedMode: false,
      },
    ],
    series: [...aSeries, ...bSeries, ...cSeries, ...dSeries],
    graphic: { elements: g },
  };
}

export default function App() {
  const ref = useRef<HTMLDivElement>(null);
  useEffect(() => {
    if (!ref.current) return;
    const chart = echarts.init(ref.current, undefined, { renderer: 'svg' });
    chart.setOption(buildOption() as any);
    return () => chart.dispose();
  }, []);
  return <div ref={ref} style={{ position: 'absolute', left: 0, top: 0, width: 1394, height: 1182, background: '#fff' }} />;
}
